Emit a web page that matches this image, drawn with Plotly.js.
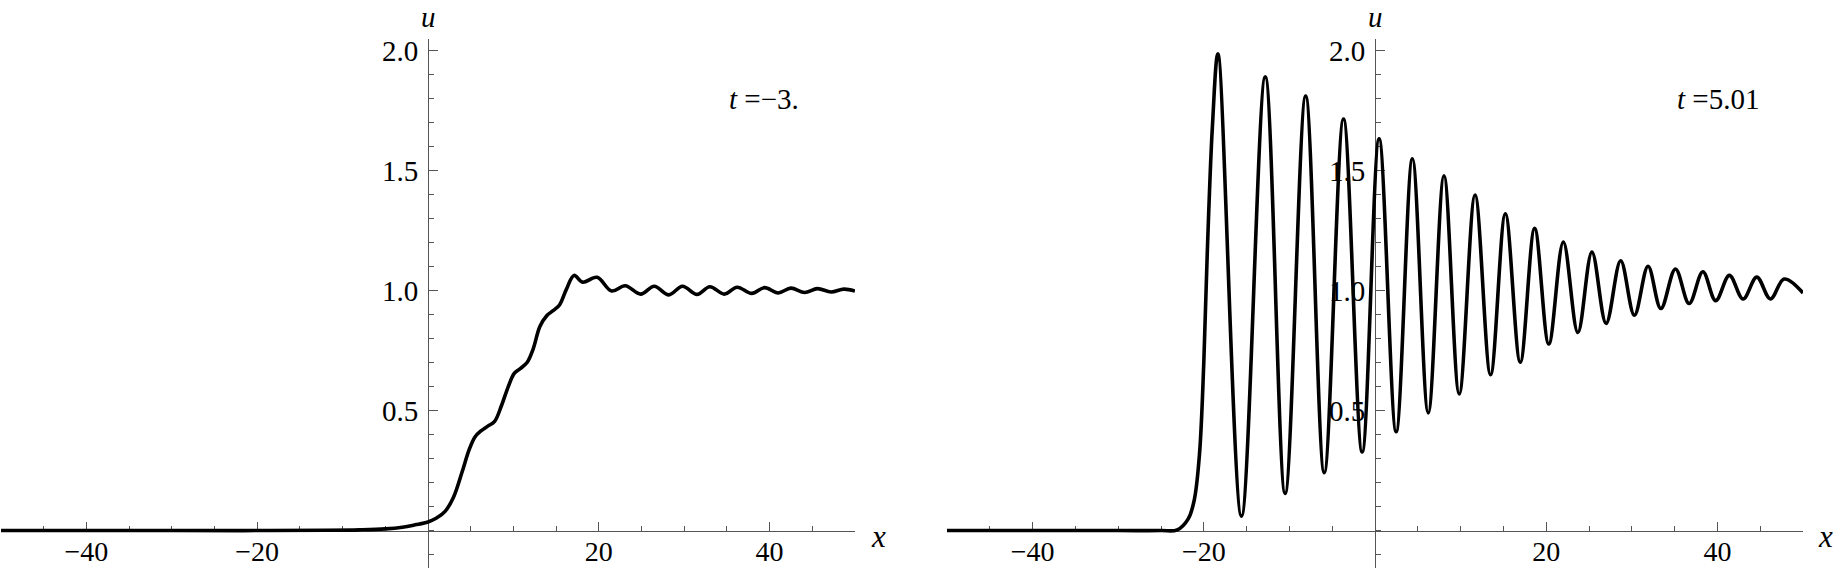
<!DOCTYPE html>
<html>
<head>
<meta charset="utf-8">
<script src="https://cdn.plot.ly/plotly-3.0.1.min.js"></script>
<style>html,body{margin:0;padding:0;background:#fff;}#chart{width:1836px;height:568px;}</style>
</head>
<body>
<div id="chart"></div>
<script>
// ---- data ----
// left panel, t = -3.
const xLeft = [-50,-30,-20,-12,-8,-5,-3,-1.5,0,1,2,3,4,4.8,5.5,6.2,7,7.8,8.6,9.4,10.1,10.8,11.6,12.3,13.1,13.9,14.6,15.4,16.2,17.1,18.1,19.8,21.5,23.1,24.9,26.5,28.2,29.8,31.5,33.0,34.7,36.2,37.9,39.4,41.0,42.5,44.1,45.6,47.2,48.7,50];
const uLeft = [0,0,0,0.001,0.003,0.007,0.014,0.024,0.036,0.052,0.08,0.14,0.245,0.335,0.39,0.415,0.435,0.455,0.52,0.6,0.655,0.675,0.7,0.755,0.85,0.895,0.915,0.94,1.005,1.063,1.035,1.055,0.998,1.02,0.985,1.018,0.982,1.018,0.984,1.016,0.985,1.014,0.988,1.012,0.99,1.01,0.992,1.008,0.994,1.006,0.998];
// right panel, t = 5.01
const xRight = [-50,-30,-25,-23.1,-21.8,-21.1,-20.5,-20.0,-19.6,-19.0,-18.35,-15.6,-12.82,-10.5,-8.1,-5.93,-3.68,-1.5,0.48,2.47,4.37,6.22,8.06,9.84,11.69,13.5,15.23,16.97,18.65,20.3,22.0,23.7,25.34,27.0,28.7,30.3,31.9,33.4,35.1,36.7,38.3,39.8,41.4,43.0,44.6,46.2,47.8,50];
const uRight = [0,0,0,0.003,0.05,0.13,0.32,0.70,1.15,1.68,1.986,0.06,1.89,0.155,1.81,0.241,1.715,0.327,1.632,0.412,1.549,0.49,1.478,0.569,1.398,0.649,1.32,0.701,1.259,0.777,1.202,0.825,1.16,0.863,1.124,0.897,1.101,0.925,1.09,0.946,1.078,0.958,1.063,0.965,1.056,0.965,1.048,0.99];
// ticks and labels
const xTickVals = [-40,-20,20,40];
const xTickText = ["\u221240","\u221220","20","40"];
const yTickVals = [0.5,1.0,1.5,2.0];
const yTickText = ["0.5","1.0","1.5","2.0"];
const panelLabels = ["<i>t</i> =\u22123.", "<i>t</i> =5.01"];

// ---- layout ----
const W = 1836, H = 568;
const FONT = "Liberation Serif, Times New Roman, serif";
const yMin = -0.156, yMax = 2.048, yTop = 529/568;
const y0frac = yTop * (0 - yMin) / (yMax - yMin);

function xAx(dom){
  return {
    domain: dom, range: [-50,50], anchor: 'free', position: y0frac,
    showgrid: false, zeroline: false, showline: true, linecolor: '#555', linewidth: 1,
    ticks: 'inside', ticklen: 9, tickwidth: 1, tickcolor: '#555',
    tickmode: 'array', tickvals: xTickVals, ticktext: xTickText,
    minor: {tickmode: 'linear', tick0: 0, dtick: 5, ticks: 'inside', ticklen: 5, tickwidth: 1, tickcolor: '#555'},
    tickfont: {family: FONT, size: 28, color: '#000'},
    ticklabelstandoff: -4,
    layer: 'below traces', fixedrange: true
  };
}
function yAx(pos){
  return {
    domain: [0, yTop], range: [yMin, yMax], anchor: 'free', position: pos,
    showgrid: false, zeroline: false, showline: true, linecolor: '#555', linewidth: 1,
    ticks: 'inside', ticklen: 9, tickwidth: 1, tickcolor: '#555',
    tickmode: 'array', tickvals: yTickVals, ticktext: yTickText,
    minor: {tickmode: 'linear', tick0: 0, dtick: 0.1, ticks: 'inside', ticklen: 5, tickwidth: 1, tickcolor: '#555'},
    tickfont: {family: FONT, size: 29, color: '#000'},
    ticklabelstandoff: 4,
    layer: 'below traces', fixedrange: true
  };
}

const traces = [
  {x: xLeft, y: uLeft, xaxis: 'x', yaxis: 'y', mode: 'lines', line: {color: '#000', width: 3.6, shape: 'spline', smoothing: 1}, hoverinfo: 'skip'},
  {x: xRight, y: uRight, xaxis: 'x2', yaxis: 'y2', mode: 'lines', line: {color: '#000', width: 3.6, shape: 'spline', smoothing: 1}, hoverinfo: 'skip'}
];

const ann = [];
function addPanelAnn(xref, yref, axisXpx, rightPx, label){
  ann.push({xref: 'paper', yref: 'paper', x: axisXpx / W, y: 1, text: '<i>u</i>', showarrow: false,
    xanchor: 'center', yanchor: 'top', borderpad: 0, font: {family: FONT, size: 29, color: '#000'}});
  ann.push({xref: 'paper', yref: 'paper', x: rightPx / W, y: 1 - 536 / H, text: '<i>x</i>', showarrow: false,
    xanchor: 'center', yanchor: 'middle', font: {family: FONT, size: 31, color: '#000'}});
  ann.push({xref: xref, yref: yref, x: 35, y: 1.80, text: label, showarrow: false,
    xanchor: 'left', yanchor: 'middle', font: {family: FONT, size: 29, color: '#000'}});
}
addPanelAnn('x', 'y', 428, 878, panelLabels[0]);
addPanelAnn('x2', 'y2', 1375, 1825, panelLabels[1]);

const layout = {
  width: W, height: H,
  margin: {l: 0, r: 0, t: 0, b: 0, pad: 0},
  paper_bgcolor: '#fff', plot_bgcolor: 'rgba(0,0,0,0)',
  showlegend: false,
  xaxis: xAx([1/W, 855/W]),
  yaxis: yAx(428/W),
  xaxis2: xAx([947/W, 1803/W]),
  yaxis2: yAx(1375/W),
  annotations: ann
};

Plotly.newPlot('chart', traces, layout, {staticPlot: true, displayModeBar: false});
</script>
</body>
</html>
